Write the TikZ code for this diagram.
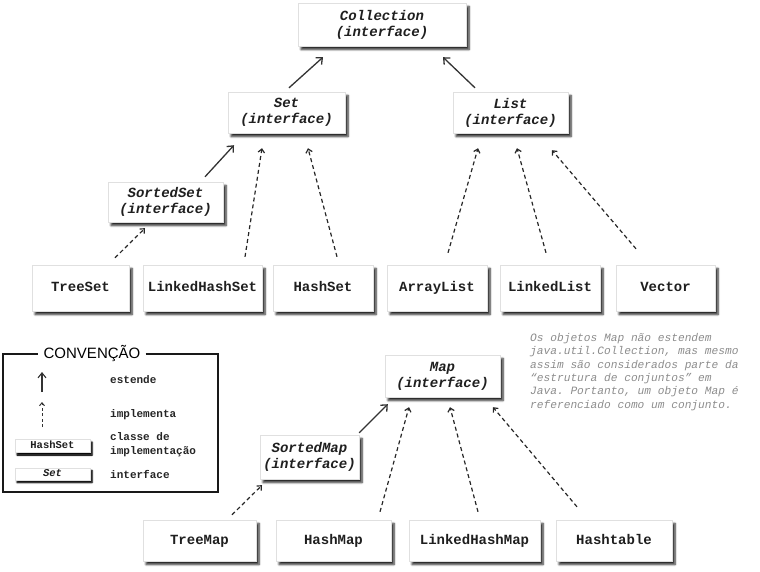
\documentclass[tikz,border=0pt]{standalone}
\usepackage{fontspec}
\setmainfont{Liberation Sans}
\setmonofont{Liberation Mono}
\usetikzlibrary{arrows.meta,shadows.blur,calc}
\tikzset{
  x=1pt, y=-1pt,
  box/.style={draw=black!12, fill=white, line width=0.4pt,
    blur shadow={shadow xshift=3pt, shadow yshift=-3.5pt, shadow blur radius=2pt, shadow blur steps=6, shadow opacity=85},
    font=\fontsize{14}{16}\selectfont\ttfamily\bfseries, text=black!88, align=center, inner sep=0pt},
  cls/.style={box, text height=9.5pt, text depth=2.5pt},
  smallbox/.style={box, font=\fontsize{10.5}{12}\selectfont\ttfamily\bfseries, text height=7.5pt, text depth=2pt,
    blur shadow={shadow xshift=2pt, shadow yshift=-2.5pt, shadow blur radius=1.5pt, shadow blur steps=4, shadow opacity=85}},
  ext/.style={draw=black!80, line width=1.3pt, -{Straight Barb[length=5pt,width=9pt]}},
  impl/.style={draw=black!85, line width=1.2pt, dash pattern=on 4pt off 3pt, -{Straight Barb[length=3.5pt,width=6.5pt]}},
  legtext/.style={anchor=west, font=\fontsize{11}{14.5}\selectfont\ttfamily\bfseries, text=black!85, align=left, inner sep=0pt},
}
\begin{document}
\begin{tikzpicture}
\useasboundingbox (0,0) rectangle (760,572);
% interfaces
\node[box, minimum width=168pt, minimum height=43pt] (coll) at (382,24.5) {\itshape Collection\\\itshape (interface)};
\node[box, minimum width=117pt, minimum height=41pt] (set) at (286.5,112.5) {\itshape Set\\\itshape (interface)};
\node[box, minimum width=115pt, minimum height=41pt] (list) at (510.5,112.5) {\itshape List\\\itshape (interface)};
\node[box, minimum width=115pt, minimum height=40pt] (sset) at (165.5,202) {\itshape SortedSet\\\itshape (interface)};
% set / list classes
\node[cls, minimum width=97pt, minimum height=46pt] (treeset) at (80.5,288) {TreeSet};
\node[cls, minimum width=119pt, minimum height=46pt] (lhset) at (202.5,288) {LinkedHashSet};
\node[cls, minimum width=100pt, minimum height=46pt] (hset) at (323,288) {HashSet};
\node[cls, minimum width=100pt, minimum height=46pt] (alist) at (437,288) {ArrayList};
\node[cls, minimum width=100pt, minimum height=46pt] (llist) at (550,288) {LinkedList};
\node[cls, minimum width=99pt, minimum height=46pt] (vector) at (665.5,288) {Vector};
% maps
\node[box, minimum width=115pt, minimum height=42pt] (map) at (442.5,376) {\itshape Map\\\itshape (interface)};
\node[box, minimum width=99pt, minimum height=44pt] (smap) at (309.5,457) {\itshape SortedMap\\\itshape (interface)};
\node[cls, minimum width=113pt, minimum height=41pt] (tmap) at (199.5,540.5) {TreeMap};
\node[cls, minimum width=115pt, minimum height=41pt] (hmap) at (333.5,540.5) {HashMap};
\node[cls, minimum width=131pt, minimum height=41pt] (lhmap) at (474.5,540.5) {LinkedHashMap};
\node[cls, minimum width=116pt, minimum height=41pt] (htable) at (614,540.5) {Hashtable};
% connectors
\draw[ext] ($(set.north)+(2.5,-4)$) -- ($(coll.south)+(-59,11)$);
\draw[ext] ($(list.north)+(-35.5,-4)$) -- ($(coll.south)+(61,11)$);
\draw[ext] ($(sset.north)+(39.5,-5)$) -- ($(set.south)+(-52.5,12)$);
\draw[impl] ($(lhset.north)+(42.5,-8)$) -- ($(set.south)+(-24.5,15)$);
\draw[impl] ($(hset.north)+(14,-8)$) -- ($(set.south)+(21.5,15)$);
\draw[impl] ($(treeset.north)+(34.5,-7)$) -- ($(sset.south)+(-20.5,6)$);
\draw[impl] ($(alist.north)+(11,-12)$) -- ($(list.south)+(-32.5,15)$);
\draw[impl] ($(llist.north)+(-4,-12)$) -- ($(list.south)+(6.5,15)$);
\draw[impl] ($(vector.north)+(-29.5,-16)$) -- ($(list.south)+(41.5,17)$);
\draw[ext] ($(smap.north east)+(0,-2)$) -- ($(map.south west)+(3,7)$);
\draw[impl] ($(hmap.north)+(46.5,-8)$) -- ($(map.south)+(-33.5,10)$);
\draw[impl] ($(lhmap.north)+(3.5,-8)$) -- ($(map.south)+(7.5,10)$);
\draw[impl] ($(htable.north)+(-37,-13)$) -- ($(map.south)+(50.5,10)$);
\draw[impl] ($(tmap.north)+(32.5,-5)$) -- ($(smap.south)+(-47.5,6)$);
% legend
\node[font=\fontsize{15}{16}\selectfont, inner xsep=5pt, inner ysep=0pt] (ltitle) at (92,354) {CONVENÇÃO};
\coordinate (lbr) at (218,492);
\coordinate (ltl) at (3,354);
\draw[line width=2.6pt, black!90] (ltitle.east) -| (lbr) -| (ltl) -- (ltitle.west);
\coordinate (e1) at (42,392);
\coordinate (e2) at (42,372);
\coordinate (i1) at (42,427);
\coordinate (i2) at (42,402);
\draw[black!80, line width=1.1pt, -{Straight Barb[length=5pt,width=8pt]}] (e1) -- (e2);
\draw[black!80, line width=1pt, dash pattern=on 3pt off 2.5pt, -{Straight Barb[length=3pt,width=5pt]}] (i1) -- (i2);
\node[legtext] (lext) at (110,380) {estende};
\node[legtext] (limp) at (110,415) {implementa};
\node[legtext] (lcls) at (110,444.5) {classe de\\implementação};
\node[legtext] (lint) at (110,474) {interface};
\node[smallbox, minimum width=75pt, minimum height=13pt] (lhs) at (52.5,446) {HashSet};
\node[smallbox, minimum width=75pt, minimum height=12pt] (lset) at (52.5,474) {\itshape Set};
% note
\node[anchor=north west, align=left, inner sep=0pt, text=black!45,
  font=\fontsize{11.2}{13.4}\selectfont\ttfamily\itshape] (note) at (530,333)
  {Os objetos Map não estendem\\java.util.Collection, mas mesmo\\assim são considerados parte da\\“estrutura de conjuntos” em\\Java. Portanto, um objeto Map é\\referenciado como um conjunto.};
\end{tikzpicture}
\end{document}
